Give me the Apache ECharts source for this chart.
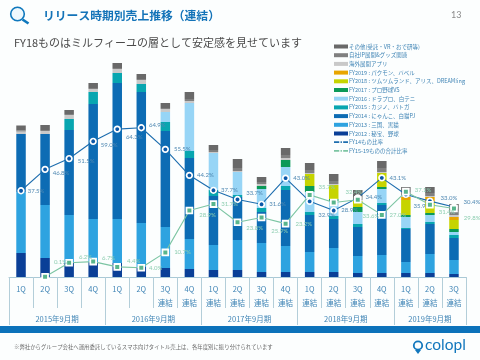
<!DOCTYPE html>
<html><head><meta charset="utf-8">
<style>html,body{margin:0;padding:0;background:#fcfefe}#c{width:480px;height:360px}</style>
<script src="https://cdn.jsdelivr.net/npm/echarts@6/dist/echarts.min.js"></script>
</head><body><div id="c"></div>
<script>
const quarters=['1Q','2Q','3Q','4Q','1Q','2Q','3Q\n連結','4Q\n連結','1Q\n連結','2Q\n連結','3Q\n連結','4Q\n連結','1Q\n連結','2Q\n連結','3Q\n連結','4Q\n連結','1Q\n連結','2Q\n連結','3Q\n連結'];
const yearLabels=['2015年9月期','2016年9月期','2017年9月期','2018年9月期','2019年9月期'];
const yearCenters=[2,6,10,14,17.5];
const yearEdges=[0,4,8,12,16,19];
const fy2012=[24,19,14,15,14,10,9,8,7,7,5,5,5,5,4,4,4,4,3];
const fy2013=[61,53,48,43,44,44,41,30,25,30,29,26,20,24,17,18,11,19,14];
const fy2014=[58,71,85,115,136,131,96,81,49,43,31,56,37,29,29,50,33,30,22];
const fy2015=[0,0,11,12,10,8,9,7,6,2,4,4,3,3,3,2,1,2,3];
const fy2016=[0,0,0,0,0,0,10,48,37,23,19,19,20,15,12,14,11,7,3];
const fy2017=[0,0,0,0,0,0,0,0,0,0,3,7,6,2,5,2,2,2,3];
const fy2018=[0,0,0,0,0,0,0,0,0,0,0,0,12,14,6,14,15,10,9];
const fy2019=[0,0,0,0,0,0,0,0,0,0,0,0,0,0,0,0,3,6,3];
const overseas=[2.5,3,4,3,4,4,3,2,1,1,2,2,1,1,1,1,2,1,2];
const ipGoods=[1,1,1,1,1,1,1,2,2,3,2,3,3,3,3,4,3,3,4];
const others=[5,5,4,5,5,5,5,7,5,9,5,7,7,7,7,7,5,6,7];
const fy14Ratio=[37.5,46.8,51.5,59.0,64.3,64.9,55.5,44.2,37.7,33.7,31.6,43.0,32.9,28.9,34.4,43.1,35.9,33.0,30.4];
const fy15Ratio=[null,0.1,6.2,6.7,4.4,4.0,10.7,28.9,31.7,23.8,25.9,23.2,35.7,32.4,33.6,27.0,37.1,31.4,29.8];
const blueLabelShift=[[-1,0],[0,4],[1,3],[0,4],[1,8],[0,-3],[1,0],[0,0],[0,0],[1,-6],[0,0],[0,0],[1,14],[0,0],[0,-1],[0,0],[0,12],[3,-3],[2,-5]];
const greenLabelShift=[[0,0],[1,-15],[2,-6],[1,-4],[2,-6],[0,0],[1,0],[2,5],[0,0],[1,6],[2,14],[2,0],[1,-8],[4,-10],[-3,16],[0,0],[1,-2],[1,7],[2,10]];

const FONT='"Noto Sans CJK JP","Noto Sans",sans-serif';
const stacks=[
 ['FY2012 : 秘宝、野球',fy2012,'#0a3f97'],
 ['FY2013 : 三国、黒猫',fy2013,'#2ea3e0'],
 ['FY2014 : にゃんこ、白猫PJ',fy2014,'#0d6cb4'],
 ['FY2015 : カジノ、バトガ',fy2015,'#08a6b0'],
 ['FY2016 : ドラプロ、白テニ',fy2016,'#97d5f6'],
 ['FY2017 : プロ野球VS',fy2017,'#0b9a58'],
 ['FY2018 : ツムツムランド、アリス、DREAM!ing',fy2018,'#c6d400'],
 ['FY2019 : パクモン、バベル',fy2019,'#e8a500'],
 ['海外展開アプリ',overseas,'#c9c9c9'],
 ['自社IP展開&グッズ関連',ipGoods,'#808080'],
 ['その他(受託・VR・おで研等)',others,'#696969']
];
const LBL_BLUE='FY14もの比率', LBL_GREEN='FY15-19ものの合計比率';
const dash='path://M0 0H6V2H0Z M7.5 0H9V2H7.5Z M10.5 0H16V2H10.5Z';
const legendData=stacks.map(s=>({name:s[0],icon:'rect'})).reverse()
 .concat([
  {name:LBL_BLUE,icon:dash,itemStyle:{color:'#1d6dae',borderWidth:0}},
  {name:LBL_GREEN,icon:dash,itemStyle:{color:'#7cc5a3',borderWidth:0}}]);

function lineSeries(name,vals,shift,lineColor,fill,txt,symbol,size,bw){
 return {name,type:'line',yAxisIndex:1,z:symbol==='rect'?6:5,symbol,symbolSize:size,showSymbol:true,connectNulls:false,
  lineStyle:{color:lineColor,width:1.1},
  itemStyle:{color:fill,borderColor:'#ffffff',borderWidth:bw,opacity:1},
  data:vals.map((v,i)=>({value:v,label:{show:v!==null,position:'right',distance:4,offset:shift[i],
    formatter:p=>Number(p.value).toFixed(1)+'%',fontSize:6,color:txt,fontFamily:'Lato,sans-serif'}}))};
}

const chart=echarts.init(document.getElementById('c'),null,{renderer:'canvas'});
chart.setOption({
 animation:false,backgroundColor:'#fcfefe',
 grid:{left:9,right:14,top:17,height:260,containLabel:false},
 legend:{left:334,top:43,orient:'vertical',itemWidth:14,itemHeight:4,itemGap:1.7,padding:0,
  selectedMode:false,data:legendData,
  textStyle:{fontSize:5.5,color:'#3f84b5',fontFamily:FONT,padding:[0,0,0,-4],lineHeight:7}},
 xAxis:[
  {type:'category',data:quarters,position:'bottom',
   axisLine:{lineStyle:{color:'#a9c9d6',width:1}},
   axisTick:{show:true,length:31,lineStyle:{color:'#b3ced9',width:1}},
   axisLabel:{margin:5,fontSize:7.5,lineHeight:14,color:'#3f84b5',fontFamily:FONT,interval:0,verticalAlign:'top'}},
  {type:'value',min:0,max:19,position:'bottom',splitLine:{show:false},
   axisLine:{show:false},
   axisTick:{show:true,length:48,customValues:yearEdges,lineStyle:{color:'#b3ced9',width:1}},
   axisLabel:{show:true,margin:38,customValues:yearCenters,fontSize:7.5,color:'#3f84b5',fontFamily:FONT,
     formatter:v=>yearLabels[yearCenters.indexOf(v)]}}
 ],
 yAxis:[
  {type:'value',min:0,max:260,show:false,splitLine:{show:false}},
  {type:'value',min:0,max:113.04,show:false,splitLine:{show:false}}
 ],
 series:stacks.map(s=>({name:s[0],type:'bar',stack:'sales',barWidth:9.5,z:2,data:s[1],
   itemStyle:{color:s[2]}}))
  .concat([
   lineSeries(LBL_BLUE,fy14Ratio,blueLabelShift,'#1d6dae','#0b58a8','#4f88b2','circle',5.6,1.7),
   lineSeries(LBL_GREEN,fy15Ratio,greenLabelShift,'#7cc5a3','#58b58c','#8ccdb0','rect',5.8,1.8)
  ]),
 graphic:[
  {type:'circle',shape:{cx:17.5,cy:14,r:6.8},style:{fill:'#eef8fd',stroke:'#0f78bd',lineWidth:1.6}},
  {type:'line',shape:{x1:22.5,y1:19.5,x2:28.5,y2:23.5},style:{stroke:'#0f78bd',lineWidth:2.6}},
  {type:'text',x:43,y:10,style:{text:'リリース時期別売上推移(連結)'.replace('(','（').replace(')','）'),fontSize:11.8,fontWeight:'bold',fill:'#1373b8',fontFamily:FONT}},
  {type:'text',x:451,y:11,style:{text:'13',fontSize:9,fill:'#8a8a8a',fontFamily:'Lato,sans-serif'}},
  {type:'text',x:14,y:37,style:{text:'FY18ものはミルフィーユの層として安定感を見せています',fontSize:11,fill:'#4a4a4a',fontFamily:FONT}},
  {type:'rect',shape:{x:0,y:326,width:480,height:7},style:{fill:'#0c72ba'}},
  {type:'text',x:14,y:344,style:{text:'※弊社からグループ会社へ運用委託しているスマホ向けタイトル売上は、各年度別に振り分けられています',fontSize:5.4,fill:'#6b6b6b',fontFamily:FONT}},
  {type:'circle',shape:{cx:418,cy:345.5,r:4.2},style:{fill:'#fcfefe',stroke:'#1277bd',lineWidth:1.8}},
  {type:'polygon',shape:{points:[[415,350],[421,350],[418,354]]},style:{fill:'#1277bd'}},
  {type:'text',x:425,y:337,style:{text:'colopl',fontSize:15.5,fill:'#1277bd',fontFamily:'Lato,sans-serif'}}
 ]
});
</script></body></html>
